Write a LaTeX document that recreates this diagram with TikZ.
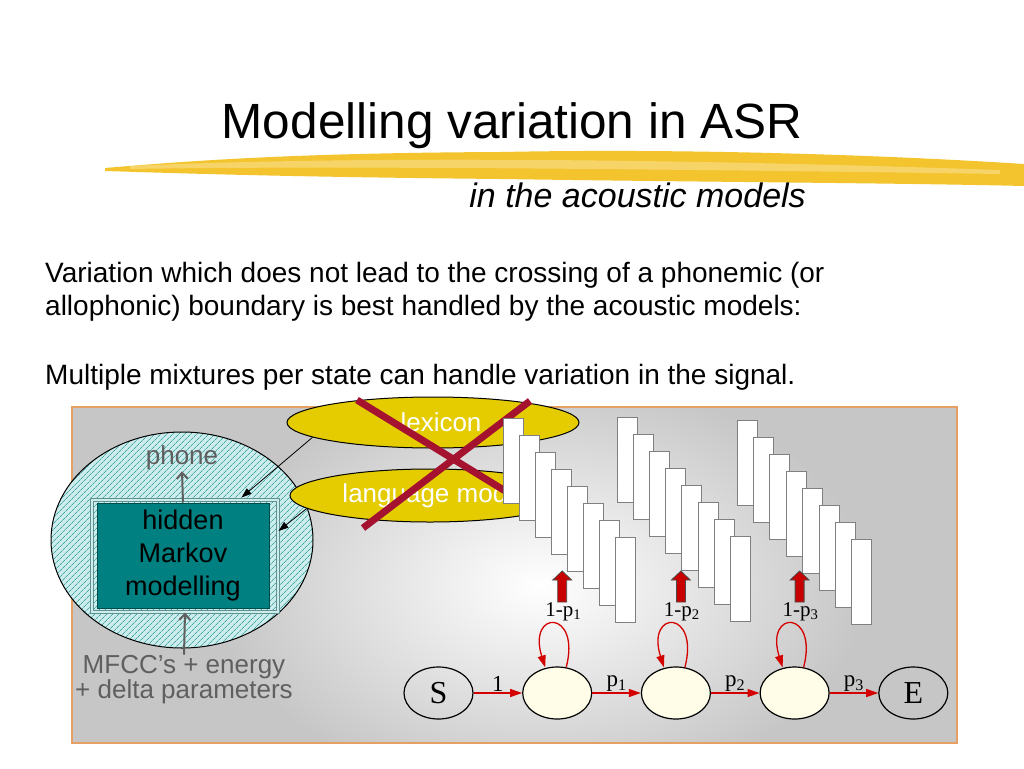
\documentclass[tikz,border=0pt]{standalone}
\usepackage{fontspec}
\setmainfont{Liberation Sans}
\newfontfamily\timesfont{Liberation Serif}
\usetikzlibrary{shapes.geometric,arrows.meta,patterns.meta,calc,positioning}

\definecolor{brush}{RGB}{243,196,45}
\definecolor{panelborder}{RGB}{230,160,100}
\definecolor{hatchbg}{RGB}{205,236,236}
\definecolor{hatchline}{RGB}{70,165,165}
\definecolor{framecol}{RGB}{95,145,145}
\definecolor{tealbox}{RGB}{0,128,128}
\definecolor{tealdark}{RGB}{0,75,75}
\definecolor{greytext}{RGB}{95,95,95}
\definecolor{lexyellow}{RGB}{228,204,0}
\definecolor{crossred}{RGB}{165,18,48}
\definecolor{statefill}{RGB}{255,253,232}
\definecolor{hmmred}{RGB}{212,0,0}
\definecolor{blockred}{RGB}{200,0,0}

\tikzstyle{state} = [ellipse, draw, line width=1.2pt, fill=statefill, minimum width=69pt, minimum height=52pt, inner sep=0pt]
\tikzstyle{term} = [ellipse, draw, line width=1.2pt, minimum width=69pt, minimum height=52pt, inner sep=0pt, font=\timesfont\fontsize{32}{32}\selectfont]
\tikzstyle{trans} = [draw=hmmred, line width=1.3pt, -{Triangle[length=12pt,width=8pt]}]
\tikzstyle{prob} = [font=\timesfont\fontsize{23}{23}\selectfont, inner sep=1pt]
\tikzstyle{stay} = [font=\timesfont\fontsize{21}{21}\selectfont, inner sep=1pt]
\tikzstyle{tape} = [draw=gray, fill=white, line width=1pt]
\tikzstyle{block} = [draw=black!70, fill=blockred, line width=0.8pt]
\tikzstyle{bubble} = [ellipse, draw, line width=1pt, fill=lexyellow, text=white, inner sep=0pt, font=\fontsize{26}{26}\selectfont]
\tikzstyle{greytxt} = [text=greytext, font=\fontsize{26}{25}\selectfont, align=center, inner sep=1pt]
\tikzstyle{greyarrow} = [draw=greytext, line width=2pt, -{Straight Barb[length=6pt,width=11pt]}]
\tikzstyle{feed} = [draw=black, line width=0.8pt, -{Triangle[length=10pt,width=7pt]}]
\tikzstyle{cross} = [draw=crossred, line width=7pt]

\begin{document}
\begin{tikzpicture}[x=1pt, y=-1pt]
\useasboundingbox[fill=white] (0,0) rectangle (1024,768);

\fill[brush] (105,168) .. controls (200,160) and (300,153) .. (500,152)
    .. controls (700,148) and (900,156) .. (1024,164) -- (1024,186)
    .. controls (900,183) and (700,182) .. (500,179)
    .. controls (300,177) and (200,174) .. (105,171) -- cycle;
\fill[brush!60, opacity=0.7] (130,166) .. controls (300,158) and (600,156) .. (1000,170)
    -- (1000,174) .. controls (600,168) and (300,166) .. (130,169) -- cycle;

\node[font=\fontsize{49.5}{50}\selectfont, anchor=base, inner sep=0pt] (title) at (512,138) {Modelling variation in ASR};
\node[font=\itshape\fontsize{34}{34}\selectfont, anchor=base east, inner sep=0pt] (subtitle) at (806,207) {in the acoustic models};

\node[font=\fontsize{28}{33}\selectfont, anchor=base west, inner sep=0pt] (line1) at (45,282) {Variation which does not lead to the crossing of a phonemic (or};
\node[font=\fontsize{28}{33}\selectfont, anchor=base west, inner sep=0pt] (line2) at (45,315) {allophonic) boundary is best handled by the acoustic models:};
\node[font=\fontsize{28}{33}\selectfont, anchor=base west, inner sep=0pt] (line3) at (45,384) {Multiple mixtures per state can handle variation in the signal.};

\fill[gray!45] (72,407) rectangle (957,743);
\begin{scope}
  \clip (72,407) rectangle (957,743);
  \shade[inner color=white, outer color=gray!45] (540,585) ellipse (330 and 210);
\end{scope}
\draw[panelborder, line width=1.5pt] (72,407) rectangle (957,743);

\node[ellipse, draw, line width=1pt, minimum width=262pt, minimum height=216pt, inner sep=0pt,
      preaction={fill=hatchbg}, pattern={Lines[angle=45,distance=4pt,line width=0.8pt]}, pattern color=hatchline] (zone) at (182,540) {};
\node[draw=framecol, line width=1pt, double=hatchbg, double distance=2pt, minimum width=186pt, minimum height=112pt, inner sep=0pt] (frame) at (185,556) {};
\node[fill=tealbox, draw=tealdark, line width=1pt, minimum width=172pt, minimum height=105pt, inner sep=0pt,
      align=center, font=\fontsize{27}{33}\selectfont] (hmmbox) at (183,555.5) {hidden\\Markov\\modelling};

\node[greytxt] (phone) at (182,458) {phone};
\node[greytxt] (feat) at (184,680) {MFCC’s + energy\\+ delta parameters};
\draw[greyarrow] (hmmbox.north) -- (phone.south);
\draw[greyarrow] (feat.north) -- (frame.south);

\node[bubble, minimum width=292pt, minimum height=51pt] (lex) at (433,422.5) {\hspace{16pt}lexicon};
\node[bubble, minimum width=280pt, minimum height=53pt] (lm) at (430,495.5) {\hspace{10pt}language model};
\draw[feed] (lex.187) -- ($(frame.north east)+(-37,-2)$);
\draw[feed] (lm.186) -- ($(frame.east)+(0,-25)$);

\draw[cross] (357,400) -- (515,497);
\draw[cross] (530,401) -- (363,528);

\foreach \gx/\gy/\dx in {503/418/16.1, 617/417/16.2, 737/420/16.4} {
  \foreach \i in {0,...,7} {
    \draw[tape] (\gx+\dx*\i, \gy+17*\i) rectangle +(20,85);
  }
}

\node[term] (start) at (438.5,693) {S};
\node[state, right=48.5pt of start] (s1) {};
\node[state, right=48.5pt of s1] (s2) {};
\node[state, right=48.5pt of s2] (s3) {};
\node[term, right=48.5pt of s3] (end) {E};

\draw[trans] (start) -- node[prob, above] {1} (s1);
\draw[trans] (s1) -- node[prob, above] {p\textsubscript{1}} (s2);
\draw[trans] (s2) -- node[prob, above] {p\textsubscript{2}} (s3);
\draw[trans] (s3) -- node[prob, above] {p\textsubscript{3}} (end);

\foreach \s/\k in {s1/1, s2/2, s3/3} {
  \draw[trans] ($(\s.north)+(9,1)$) .. controls +(15,-58) and +(-18,-58) .. ($(\s.north)+(-12,1)$);
  \draw[block] ($(\s)+(9.5,-91)$) -- ++(0,-22) -- ++(5,0) -- ++(-9.5,-9) -- ++(-9.5,9) -- ++(5,0) -- ++(0,22) -- cycle;
  \node[stay] (stay\k) at ($(\s)+(6,-81)$) {1-p\textsubscript{\k}};
}
\end{tikzpicture}
\end{document}
